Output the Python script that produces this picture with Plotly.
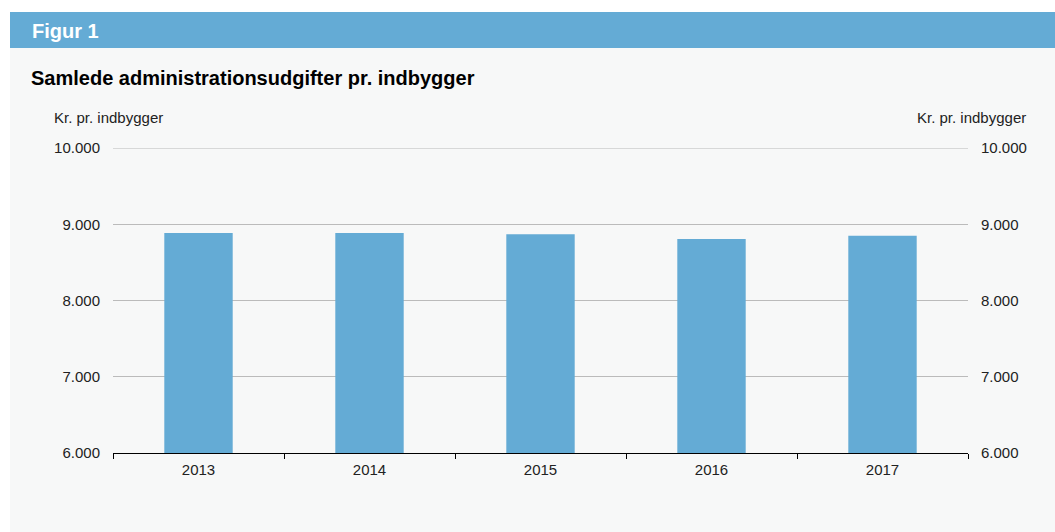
import plotly.graph_objects as go

years = ["2013", "2014", "2015", "2016", "2017"]
values = [8885, 8885, 8868, 8807, 8850]
y_ticks = [6000, 7000, 8000, 9000, 10000]
y_ticklabels = ["6.000", "7.000", "8.000", "9.000", "10.000"]

W, H = 1055, 532
BLUE = "#64abd5"
FONT = "Liberation Sans, Arial, Helvetica, sans-serif"
GRID = "#bbbbbb"

def px(x):
    return x / W

def py(y):
    return 1 - y / H

fig = go.Figure()
fig.add_trace(go.Bar(x=years, y=values, marker=dict(color=BLUE, line=dict(width=0)),
                     yaxis="y", hoverinfo="x+y"))
# invisible trace for the right axis
fig.add_trace(go.Scatter(x=years, y=values, yaxis="y2", mode="markers",
                         marker=dict(opacity=0), showlegend=False, hoverinfo="skip"))

fig.update_layout(
    width=W, height=H,
    margin=dict(l=0, r=0, t=0, b=0),
    paper_bgcolor="white",
    plot_bgcolor="rgba(0,0,0,0)",
    showlegend=False,
    bargap=0.6,
    font=dict(family=FONT, size=15, color="#222222"),
    xaxis=dict(
        domain=[px(113), px(968)],
        type="category",
        showgrid=False,
        showline=True, linecolor="black", linewidth=1,
        ticks="outside", tickson="boundaries", ticklen=5, tickcolor="black", tickwidth=1,
        ticklabelstandoff=3,
        tickfont=dict(size=15, color="#222222"),
        anchor="y",
        automargin=False,
    ),
    yaxis=dict(
        domain=[py(453), py(148)],
        range=[6000, 10000.5],
        tickvals=y_ticks, ticktext=y_ticklabels,
        showgrid=True, gridcolor=GRID, gridwidth=1,
        zeroline=False, showline=False, ticks="",
        ticklabelstandoff=12,
        tickfont=dict(size=15, color="#222222"),
        automargin=False,
    ),
    yaxis2=dict(
        overlaying="y", side="right", anchor="x",
        range=[6000, 10000.5],
        tickvals=y_ticks, ticktext=y_ticklabels,
        showgrid=False, zeroline=False, showline=False, ticks="",
        ticklabelstandoff=12,
        tickfont=dict(size=15, color="#222222"),
        automargin=False,
    ),
    shapes=[
        dict(type="rect", xref="paper", yref="paper", x0=px(10), x1=1, y0=0, y1=py(48),
             fillcolor="#f7f8f8", line=dict(width=0), layer="below"),
        dict(type="rect", xref="paper", yref="paper", x0=px(10), x1=1, y0=py(48), y1=py(12),
             fillcolor=BLUE, line=dict(width=0), layer="below"),
        # top gridline (plotly omits it at the range edge)
        dict(type="line", xref="x domain", yref="y", x0=0, x1=1,
             y0=y_ticks[-1], y1=y_ticks[-1], line=dict(color=GRID, width=1), layer="below"),
    ],
    annotations=[
        dict(text="<b>Figur 1</b>", xref="paper", yref="paper", x=px(30), y=py(31),
             xanchor="left", yanchor="middle", showarrow=False,
             font=dict(family=FONT, size=20, color="white")),
        dict(text="<b>Samlede administrationsudgifter pr. indbygger</b>", xref="paper", yref="paper",
             x=px(29), y=py(78), xanchor="left", yanchor="middle", showarrow=False,
             font=dict(family=FONT, size=20, color="black")),
        dict(text="Kr. pr. indbygger", xref="paper", yref="paper", x=px(52), y=py(118),
             xanchor="left", yanchor="middle", showarrow=False,
             font=dict(family=FONT, size=15, color="#222222")),
        dict(text="Kr. pr. indbygger", xref="paper", yref="paper", x=px(1028), y=py(118),
             xanchor="right", yanchor="middle", showarrow=False,
             font=dict(family=FONT, size=15, color="#222222")),
    ],
)

fig.write_html("out.html",
               config={"displayModeBar": False},
               post_script="document.body.style.margin='0';document.body.style.overflow='hidden';")
